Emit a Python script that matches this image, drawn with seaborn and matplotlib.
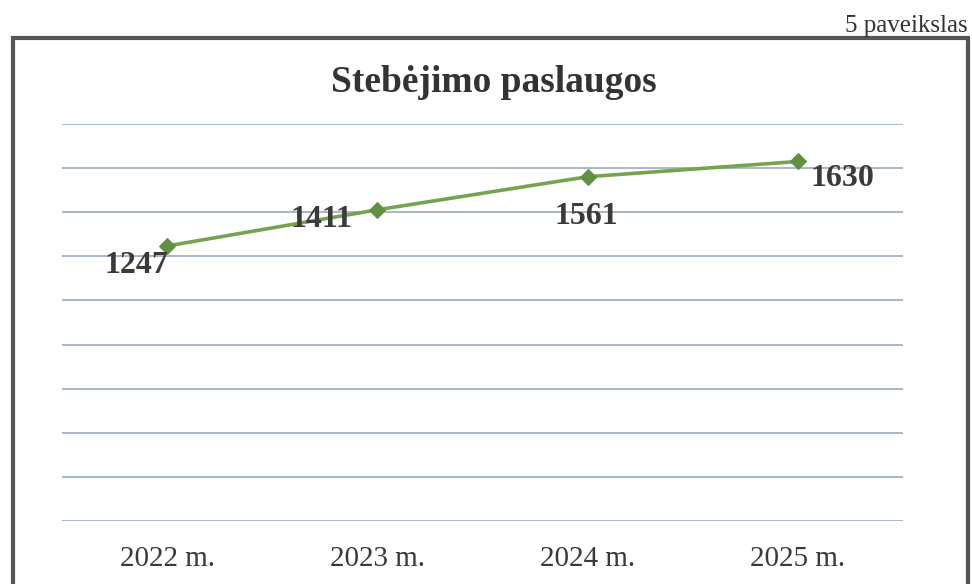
import matplotlib
matplotlib.use("Agg")
import matplotlib.pyplot as plt
import matplotlib.patches as patches
import numpy as np
import pandas as pd
import seaborn as sns

# duomenys
metai = ['2022 m.', '2023 m.', '2024 m.', '2025 m.']
paslaugos = [1247, 1411, 1561, 1630]
# etikečių poslinkiai (taškais) nuo žymeklio
label_offsets = [(-22, -14), (-40, -7), (-1, -29), (32, -12)]

df = pd.DataFrame({'metai': metai, 'paslaugos': paslaugos})

sns.set_style('white')
plt.rcParams['font.family'] = ['Liberation Serif', 'DejaVu Serif']

fig = plt.figure(figsize=(9.72, 5.84), dpi=100)
ax = fig.add_axes([62/972, 1-521/584, (903-62)/972, (521-124)/584])

sns.lineplot(data=df, x='metai', y='paslaugos', ax=ax, sort=False,
             color='#76a44c', linewidth=2.6, marker='D', markersize=8,
             markerfacecolor='#5f9140', markeredgecolor='#5f9140')

ax.set_ylim(0, 1800)
ax.set_xlim(-0.5, 3.5)
ax.set_yticks(np.arange(0, 1801, 200))
ax.yaxis.grid(True, color='#a8b7c6', linewidth=1.4)
ax.set_axisbelow(True)
ax.set_yticklabels([])
ax.tick_params(axis='y', length=0)
ax.tick_params(axis='x', length=0, pad=18, labelsize=21, labelcolor='#3a3a3a')
ax.set_xlabel('')
ax.set_ylabel('')
for s in ax.spines.values():
    s.set_visible(False)

for i, v in enumerate(paslaugos):
    dx, dy = label_offsets[i]
    ax.annotate(str(v), (i, v), xytext=(dx, dy), textcoords='offset points',
                ha='center', va='center', fontsize=23, fontweight='bold',
                color='#3a3a3a')

fig.text(494/972, 1-83/584, 'Stebėjimo paslaugos', ha='center', va='center',
         fontsize=27, fontweight='bold', color='#333333')
fig.text(968/972, 1-26/584, '5 paveikslas', ha='right', va='center',
         fontsize=18, color='#333333')

# rėmelis
rect = patches.Rectangle((13/972, -0.05), (968-13)/972, (1-38/584) + 0.05,
                         transform=fig.transFigure, fill=False,
                         edgecolor='#555555', linewidth=3, clip_on=False)
fig.add_artist(rect)

fig.savefig('out.png', dpi=100)
